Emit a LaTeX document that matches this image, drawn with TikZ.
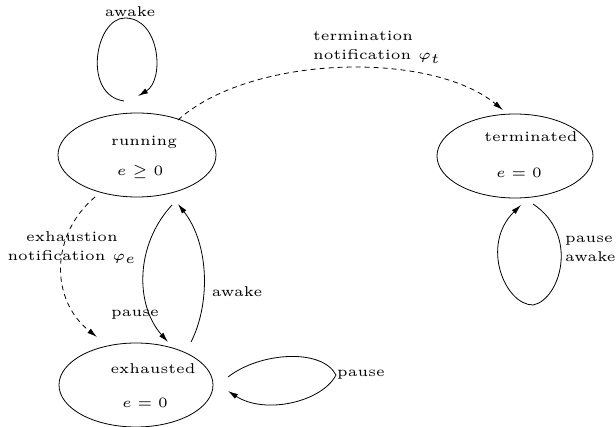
\documentclass[tikz,border=0pt]{standalone}
\usetikzlibrary{shapes.geometric,arrows.meta}
\newcommand\tx[1]{\scalebox{2.85}{\fontsize{5}{6.9}\selectfont #1}}
\begin{document}
\begin{tikzpicture}[x=1pt,y=-1pt,
  state/.style={draw,ellipse,line width=0.8pt,minimum width=#1,minimum height=84pt,inner sep=0pt},
  lbl/.style={inner sep=0pt},
  arr/.style={line width=0.8pt,-{Latex[length=10pt,width=5.5pt]}},
  darr/.style={arr,dash pattern=on 5pt off 4pt},
  plain/.style={line width=0.8pt}]
\useasboundingbox (0,0) rectangle (616,427);
% states
\node[state=158pt] (run) at (137,155) {};
\node[state=156pt] (term) at (515,156) {};
\node[state=154pt] (exh) at (136,385) {};
\node[lbl] (runT) at (144,142) {\tx{running}};
\node[lbl] (runE) at (140,172) {\tx{$e \geq 0$}};
\node[lbl] (termT) at (531,137) {\tx{terminated}};
\node[lbl] (termE) at (519,173) {\tx{$e = 0$}};
\node[lbl] (exhT) at (153,369) {\tx{exhausted}};
\node[lbl] (exhE) at (145,403) {\tx{$e = 0$}};
% connector end points
\coordinate (a1) at (124,101); \coordinate (a2) at (138,96);
\coordinate (t1) at (178,120); \coordinate (t2) at (503,110);
\coordinate (l1) at (533,204); \coordinate (l2) at (521,205);
\coordinate (e1) at (95,197);  \coordinate (e2) at (97,337);
\coordinate (p1) at (172,205); \coordinate (p2) at (168,342);
\coordinate (w1) at (191,342); \coordinate (w2) at (178,204);
\coordinate (x1) at (228,377); \coordinate (x2) at (228,391);
% connectors
\draw[arr] (a1) .. controls (82,95) and (95,18) .. (125,18) .. controls (160,18) and (165,80) .. (a2);
\draw[darr] (t1) .. controls (250,55) and (430,50) .. (t2);
\draw[arr] (l1) .. controls (580,235) and (560,300) .. (533,305) .. controls (505,305) and (480,245) .. (l2);
\draw[darr] (e1) .. controls (50,235) and (50,300) .. (e2);
\draw[arr] (p1) .. controls (135,245) and (135,305) .. (p2);
\draw[arr] (w1) .. controls (210,305) and (210,245) .. (w2);
\draw[arr] (x1) .. controls (260,352) and (322,348) .. (336,375) .. controls (322,402) and (265,415) .. (x2);
% labels
\node[lbl] (la) at (130,12) {\tx{awake}};
\node[lbl,anchor=west] (lt) at (313,46) {\tx{\begin{tabular}{@{}l@{}}termination\\notification $\varphi_t$\end{tabular}}};
\node[lbl] (le) at (72,247) {\tx{\begin{tabular}{@{}c@{}}exhaustion\\notification $\varphi_e$\end{tabular}}};
\node[lbl] (lp) at (135,315) {\tx{pause}};
\node[lbl] (lw) at (237,292) {\tx{awake}};
\node[lbl,anchor=west] (lx) at (337,375) {\tx{pause}};
\node[lbl,anchor=west] (lpa) at (565,248) {\tx{\begin{tabular}{@{}l@{}}pause\\awake\end{tabular}}};
\end{tikzpicture}
\end{document}
